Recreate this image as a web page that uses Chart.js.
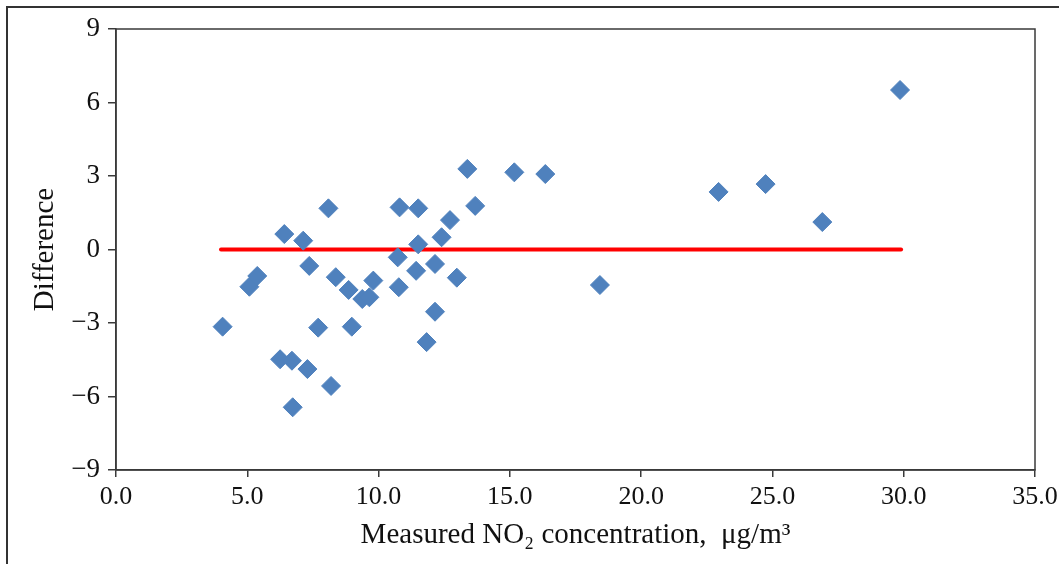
<!DOCTYPE html>
<html>
<head>
<meta charset="utf-8">
<script src="https://cdn.jsdelivr.net/npm/chart.js@4.4.1/dist/chart.umd.min.js"></script>
<style>
  html, body { margin: 0; padding: 0; background: #fff; }
  #wrap { position: relative; width: 1059px; height: 564px; }
  #frame { position: absolute; left: 6px; top: 6px; right: 0; bottom: 0;
           border-left: 2px solid #333; border-top: 2px solid #333; pointer-events: none; }
</style>
</head>
<body>
<div id="wrap">
  <canvas id="chart-diff" width="1059" height="564"></canvas>
  <div id="frame"></div>
</div>
<script>
const measuredNO2 = [
  4.06, 5.08, 5.38, 6.25, 6.41, 6.70, 6.73, 7.13, 7.29, 7.36,
  7.70, 8.09, 8.19, 8.37, 8.86, 8.98, 9.38, 9.65, 9.80, 10.73,
  10.77, 10.80, 11.43, 11.51, 11.51, 11.83, 12.15, 12.15, 12.40, 12.72,
  12.98, 13.38, 13.68, 15.17, 16.35, 18.43, 22.95, 24.74, 26.90, 29.86,
];
const difference = [
  -3.15, -1.52, -1.08, -4.48, 0.63, -4.54, -6.44, 0.36, -4.88, -0.67,
  -3.19, 1.68, -5.57, -1.13, -1.65, -3.15, -2.02, -1.95, -1.27, -0.32,
  -1.54, 1.72, -0.87, 1.68, 0.21, -3.78, -0.59, -2.54, 0.50, 1.20,
  -1.15, 3.29, 1.78, 3.15, 3.08, -1.45, 2.35, 2.67, 1.12, 6.51,
];
const zeroLineX = [4.0, 29.9];
const xTicks = { min: 0, max: 35, step: 5 };
const yTicks = { min: -9, max: 9, step: 3 };

const axisColor = '#3a3a3a';
const serif = "'Liberation Serif', 'Times New Roman', serif";

const plotBox = {
  id: 'plotBox',
  afterDatasetsDraw(chart) {
    const { ctx, chartArea: a } = chart;
    ctx.save();
    ctx.strokeStyle = axisColor;
    ctx.lineWidth = 1.5;
    ctx.strokeRect(a.left, a.top, a.right - a.left, a.bottom - a.top);
    ctx.restore();
  },
};

const minusFmt = (v) => (v < 0 ? '\u2212' + Math.abs(v) : String(v));

const ctx = document.getElementById('chart-diff').getContext('2d');
new Chart(ctx, {
  data: {
    datasets: [
      {
        type: 'scatter',
        label: 'Difference',
        data: measuredNO2.map((x, i) => ({ x, y: difference[i] })),
        pointStyle: 'rectRot',
        pointRadius: 9.5,
        pointHoverRadius: 9.5,
        backgroundColor: '#4f81bd',
        borderColor: '#4f81bd',
        borderWidth: 1,
        order: 1,
      },
      {
        type: 'line',
        label: 'Zero',
        data: zeroLineX.map((x) => ({ x, y: 0 })),
        borderColor: '#ff0000',
        borderWidth: 4,
        borderCapStyle: 'round',
        pointRadius: 0,
        fill: false,
        order: 2,
      },
    ],
  },
  options: {
    responsive: false,
    animation: false,
    layout: { padding: { left: 0, right: 24, top: 29, bottom: 0 } },
    plugins: { legend: { display: false }, tooltip: { enabled: false } },
    scales: {
      x: {
        type: 'linear',
        min: xTicks.min,
        max: xTicks.max,
        afterFit: (scale) => {
          scale.height = 94;
          scale.paddingLeft = 0;
          scale.paddingRight = 0;
        },
        ticks: {
          stepSize: xTicks.step,
          color: '#111',
          padding: 5,
          maxRotation: 0,
          font: { family: serif, size: 26 },
          callback: (v) => Number(v).toFixed(1),
        },
        grid: { drawOnChartArea: false, drawTicks: true, tickLength: 7, color: axisColor, lineWidth: 1.5 },
        border: { display: true, color: axisColor, width: 1.5 },
        title: {
          display: true,
          text: 'Measured NO\u2082 concentration,  \u03bcg/m\u00b3',
          color: '#111',
          font: { family: serif, size: 29 },
          padding: { top: 0, bottom: 11 },
        },
      },
      y: {
        type: 'linear',
        min: yTicks.min,
        max: yTicks.max,
        afterFit: (scale) => { scale.width = 116; },
        ticks: {
          stepSize: yTicks.step,
          color: '#111',
          padding: 8,
          font: { family: serif, size: 27 },
          callback: minusFmt,
        },
        grid: { drawOnChartArea: false, drawTicks: true, tickLength: 8, color: axisColor, lineWidth: 1.5 },
        border: { display: true, color: axisColor, width: 1.5 },
        title: {
          display: true,
          text: 'Difference',
          color: '#111',
          font: { family: serif, size: 29 },
          padding: { top: 28, bottom: 0 },
        },
      },
    },
  },
  plugins: [plotBox],
});
</script>
</body>
</html>
